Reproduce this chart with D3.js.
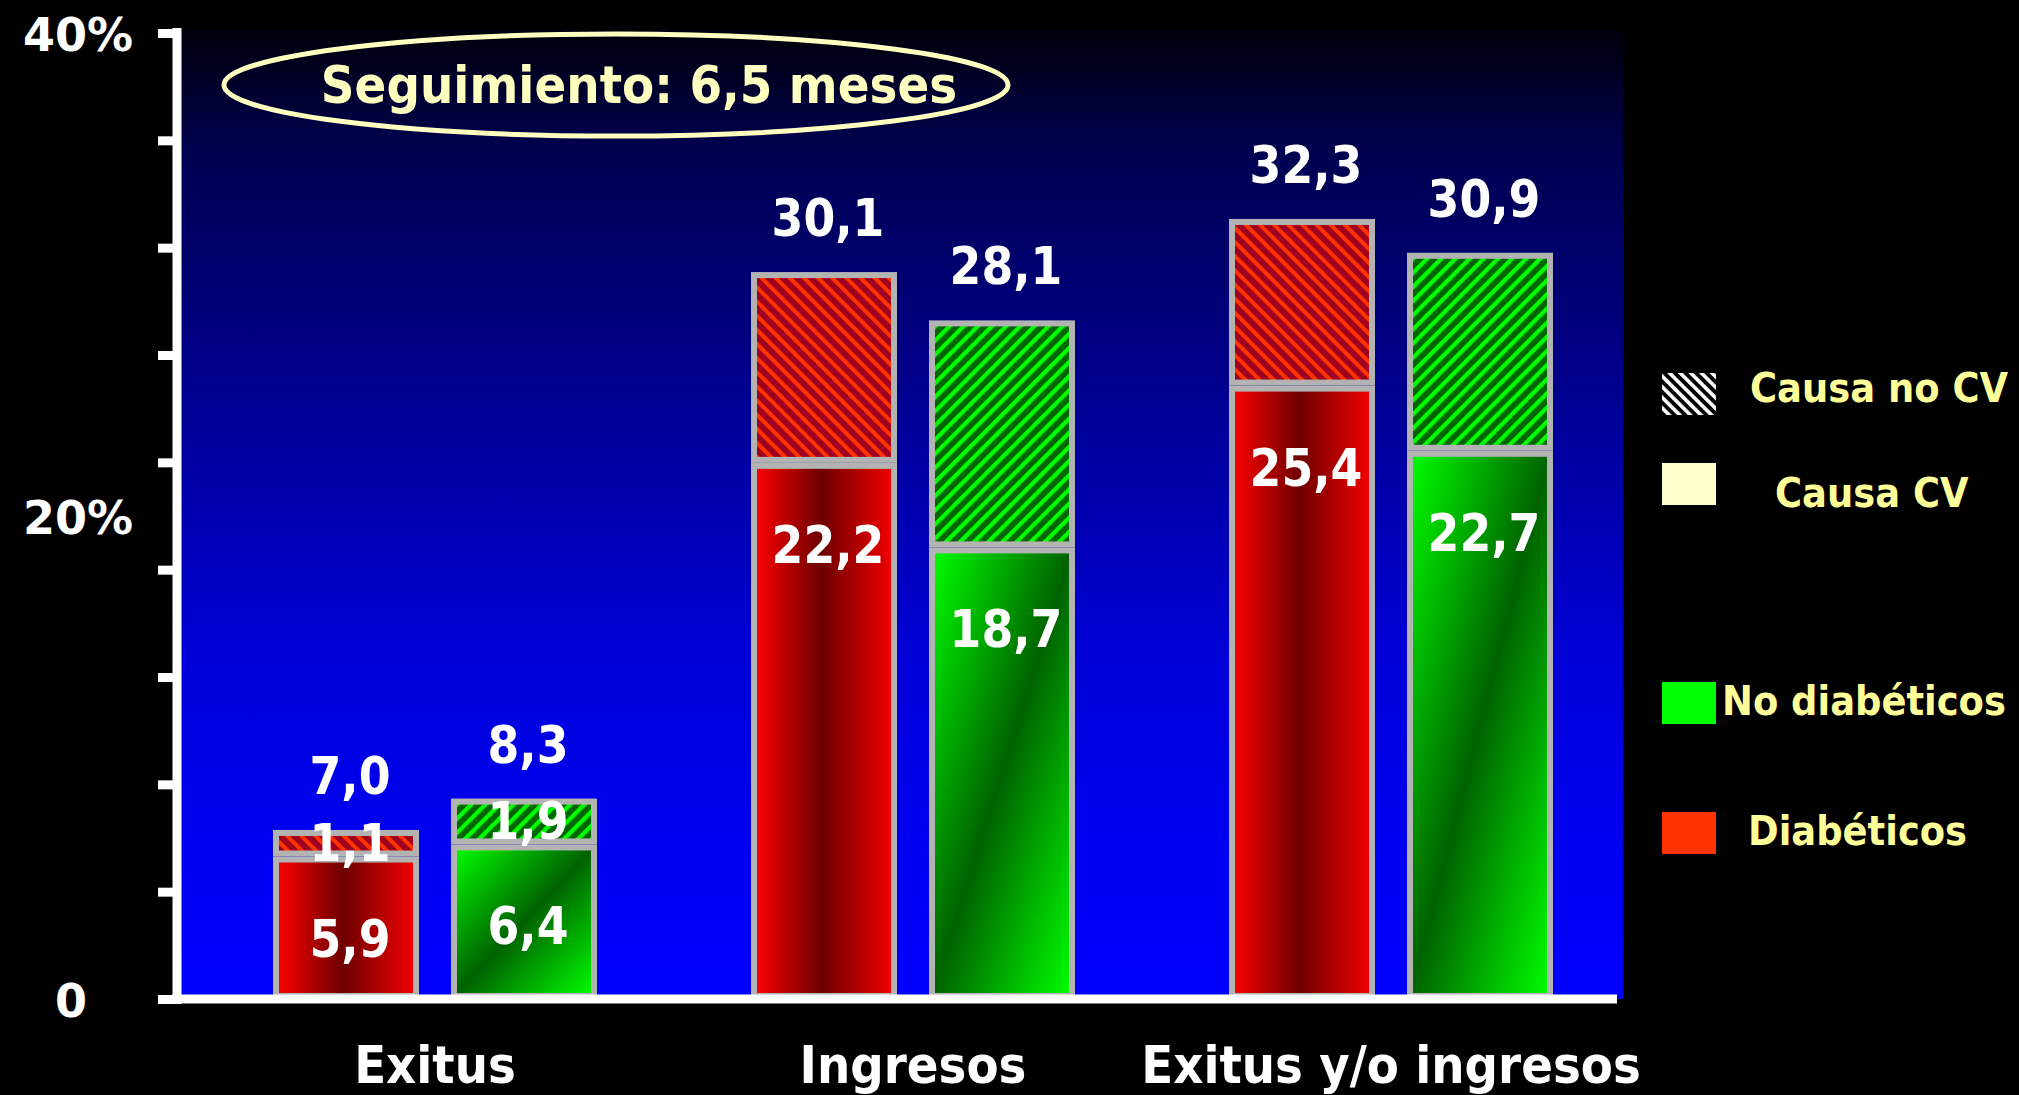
<!DOCTYPE html>
<html>
<head>
<meta charset="utf-8">
<script src="https://cdn.jsdelivr.net/npm/d3@7"></script>
<style>
  html, body { margin: 0; background: #000; }
  svg { display: block; }
</style>
</head>
<body>
<svg id="chart" width="2019" height="1095"></svg>
<script>
// ---- data ----
const categories = ["Exitus", "Ingresos", "Exitus y/o ingresos"];
const groups = ["Diabéticos", "No diabéticos"];
// totals (%)
const diabTotal = [7.0, 30.1, 32.3];
const noDiabTotal = [8.3, 28.1, 30.9];
// cardiovascular cause (%)
const diabCV = [5.9, 22.2, 25.4];
const noDiabCV = [6.4, 18.7, 22.7];
// non-cardiovascular cause (%)
const diabNoCV = [1.1, 7.9, 6.9];
const noDiabNoCV = [1.9, 9.4, 8.2];
// categories whose non-CV part is labelled
const noCVLabelled = ["Exitus"];
const yLabelValues = [0, 20, 40];
const yLabelTexts = ["0", "20%", "40%"];
const legendLabels = ["Causa no CV", "Causa CV", "No diabéticos", "Diabéticos"];
const followUpText = "Seguimiento: 6,5 meses";

// ---- rows for stacking ----
const rows = [];
categories.forEach((c, i) => {
  rows.push({ cat: c, group: groups[0], cv: diabCV[i], nocv: diabNoCV[i], total: diabTotal[i] });
  rows.push({ cat: c, group: groups[1], cv: noDiabCV[i], nocv: noDiabNoCV[i], total: noDiabTotal[i] });
});
const stacked = d3.stack().keys(["cv", "nocv"])(rows);

const fmt = d3.formatLocale({ decimal: ",", thousands: ".", grouping: [3], currency: ["", "€"] }).format(".1f");

// ---- layout ----
const panel = { left: 181, right: 1623, top: 30, bottom: 999 };
const svg = d3.select("#chart");
const defs = svg.append("defs");

const y = d3.scaleLinear().domain([0, 40]).range([999, 33]);
const x = d3.scalePoint().domain(categories).range([435, 1391]);
const xs = d3.scaleBand().domain(groups).range([-162, 162]).paddingInner(32 / 178);
const bw = xs.bandwidth();

// ---- paint servers ----
const bg = defs.append("linearGradient").attr("id", "bg")
  .attr("x1", 0).attr("y1", 0).attr("x2", 0).attr("y2", 1);
[[0, "#00000a"], [0.12, "#00004e"], [0.42, "#00009c"], [0.64, "#0000d6"], [0.85, "#0000f2"], [1, "#0000ff"]]
  .forEach(([o, c]) => bg.append("stop").attr("offset", o).attr("stop-color", c));

const redGrad = defs.append("linearGradient").attr("id", "redGrad")
  .attr("x1", 0).attr("y1", 0).attr("x2", 1).attr("y2", 0);
[[0, "#ff0000"], [0.48, "#6e0000"], [1, "#f40000"]]
  .forEach(([o, c]) => redGrad.append("stop").attr("offset", o).attr("stop-color", c));

const greenGrad = defs.append("linearGradient").attr("id", "greenGrad")
  .attr("x1", 0).attr("y1", 0).attr("x2", 1).attr("y2", 1);
[[0, "#00ff00"], [0.5, "#006200"], [1, "#00ff00"]]
  .forEach(([o, c]) => greenGrad.append("stop").attr("offset", o).attr("stop-color", c));

function hatch(id, base, stripe, period, stripeW, angle) {
  const p = defs.append("pattern").attr("id", id)
    .attr("patternUnits", "userSpaceOnUse")
    .attr("width", period).attr("height", period)
    .attr("patternTransform", `rotate(${angle})`);
  p.append("rect").attr("width", period).attr("height", period).attr("fill", base);
  p.append("rect").attr("width", stripeW).attr("height", period).attr("fill", stripe);
}
hatch("hatchRed", "#a00020", "#ff3300", 10, 4, -45);
hatch("hatchGreen", "#006600", "#00ff00", 10, 4.2, 45);
hatch("hatchLegend", "#000000", "#ffffff", 7.5, 3.6, -45);

// ---- plot panel ----
svg.append("rect")
  .attr("x", panel.left).attr("y", panel.top)
  .attr("width", panel.right - panel.left).attr("height", panel.bottom - panel.top)
  .attr("fill", "url(#bg)");

// ---- bars ----
const fills = {
  cv: d => d.data.group === groups[0] ? "url(#redGrad)" : "url(#greenGrad)",
  nocv: d => d.data.group === groups[0] ? "url(#hatchRed)" : "url(#hatchGreen)"
};
const barX = r => x(r.cat) + xs(r.group);

svg.append("g").selectAll("g")
  .data(stacked)
  .join("g")
  .each(function (layer) {
    d3.select(this).selectAll("rect")
      .data(layer)
      .join("rect")
      .attr("x", d => barX(d.data) + 3)
      .attr("y", d => y(d[1]) + 3)
      .attr("width", bw - 6)
      .attr("height", d => Math.max(0, y(d[0]) - y(d[1]) - 6))
      .attr("fill", fills[layer.key])
      .attr("stroke", "#b3b3b3")
      .attr("stroke-width", 6);
  });

// ---- axes ----
const yTicks = d3.range(10).map(i => i * 40 / 9);
const yAxis = d3.axisLeft(y).tickValues(yTicks).tickSize(19).tickSizeOuter(0).tickFormat("");
const gy = svg.append("g").attr("transform", "translate(177,0)").call(yAxis);
gy.select(".domain").attr("stroke", "#fff").attr("stroke-width", 9)
  .attr("d", `M0,${y(40) - 5}V${y(0) + 5}`);
gy.selectAll(".tick line").attr("stroke", "#fff").attr("stroke-width", 9);

svg.append("line")
  .attr("x1", 172).attr("x2", 1617)
  .attr("y1", y(0)).attr("y2", y(0))
  .attr("stroke", "#fff").attr("stroke-width", 9);

// y labels
const yl = svg.append("g").selectAll("text")
  .data(yLabelValues)
  .join("text")
  .attr("x", 133).attr("y", v => y(v) + 18)
  .attr("text-anchor", "end")
  .attr("font-family", "DejaVu Sans, Verdana, sans-serif")
  .attr("font-weight", "bold").attr("font-size", 46)
  .attr("fill", "#fff");
yl.each(function (v, i) {
  const t = d3.select(this);
  const s = yLabelTexts[i];
  t.append("tspan").text(s);
  if (!s.endsWith("%")) t.append("tspan").attr("fill", "none").text("%");
});

// condensed bold text helper
function ctext(parent, str, tx, ty, size, fill, anchor, k) {
  return parent.append("text")
    .attr("transform", `translate(${tx},${ty}) scale(${k},1)`)
    .attr("text-anchor", anchor)
    .attr("font-family", "DejaVu Sans, Verdana, sans-serif")
    .attr("font-weight", "bold")
    .attr("font-size", size)
    .attr("fill", fill)
    .text(str);
}

// category labels
const gl = svg.append("g");
categories.forEach(c => ctext(gl, c, x(c), 1083, 52, "#fff", "middle", 0.9));

// value labels
const vl = svg.append("g");
rows.forEach(r => {
  const cx = barX(r) + bw / 2 + 4;
  ctext(vl, fmt(r.total), cx, y(r.total) - 36, 52, "#fff", "middle", 0.88);
  const cvBase = Math.min(y(r.cv) + 100, (y(r.cv) + y(0)) / 2 + 45);
  ctext(vl, fmt(r.cv), cx, cvBase, 52, "#fff", "middle", 0.88);
  if (noCVLabelled.includes(r.cat)) {
    ctext(vl, fmt(r.nocv), cx, (y(r.cv) + y(r.total)) / 2 + 18, 52, "#fff", "middle", 0.88);
  }
});

// follow-up note
svg.append("ellipse")
  .attr("cx", 616).attr("cy", 85).attr("rx", 392).attr("ry", 51)
  .attr("fill", "none").attr("stroke", "#ffffc0").attr("stroke-width", 5);
ctext(svg, followUpText, 639, 103, 51, "#ffffc0", "middle", 0.92);

// legend
const legendFills = ["url(#hatchLegend)", "#ffffcc", "#00ff00", "#ff3300"];
const legendRows = [
  { sy: 373, tx: 1750, ty: 402 },
  { sy: 463, tx: 1775, ty: 507 },
  { sy: 682, tx: 1722, ty: 715 },
  { sy: 812, tx: 1748, ty: 845 }
];
const lg = svg.append("g");
legendLabels.forEach((lab, i) => {
  const p = legendRows[i];
  lg.append("rect").attr("x", 1662).attr("y", p.sy).attr("width", 54).attr("height", 42)
    .attr("fill", legendFills[i]);
  ctext(lg, lab, p.tx, p.ty, 41, "#ffff99", "start", 0.9);
});
</script>
</body>
</html>
